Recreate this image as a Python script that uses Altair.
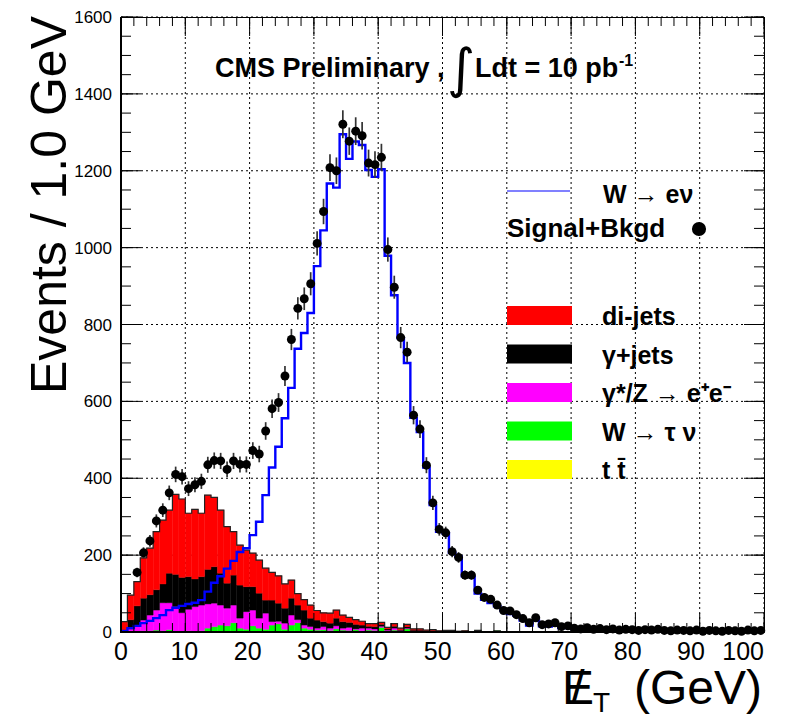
import altair as alt
import pandas as pd

FONT = "Liberation Sans"

# ---------------- data (1 GeV bins, low edges 0..99) ----------------
bin_low = list(range(100))

dijets = [22, 64, 63, 105, 121, 151, 166, 164, 208, 204,
          165, 181, 165, 193, 180, 164, 147, 113, 104, 95,
          87, 86, 83, 72, 71, 63, 47, 30, 27, 34,
          25, 23, 26, 21, 17, 13, 12, 10, 7, 8,
          5, 4, 7, 4, 6, 3, 3, 2, 2, 1,
          2, 1, 0, 1, 0, 0, 1, 0, 0, 0,
          0, 0, 1, 0, 0, 0, 0, 0, 0, 0] + [0] * 30

gamma_jets = [2, 24, 50, 57, 53, 53, 49, 77, 84, 92,
              85, 72, 74, 90, 95, 83, 65, 78, 86, 65,
              61, 65, 34, 56, 47, 39, 44, 38, 39, 22,
              21, 13, 13, 20, 17, 13, 12, 8, 5, 6,
              5, 3, 5, 2, 4, 2, 2, 1, 2, 1,
              1, 1, 1, 0, 1, 0, 0, 1, 0, 0,
              0, 1, 0, 0, 0, 0, 0, 0, 0, 0] + [0] * 30

zee = [2, 6, 16, 28, 41, 52, 73, 70, 64, 48,
       56, 64, 67, 63, 61, 52, 46, 46, 26, 46,
       41, 26, 42, 9, 7, 16, 26, 8, 8, 7,
       5, 8, 6, 8, 5, 8, 2, 7, 5, 4,
       3, 2, 5, 2, 2, 1, 1, 1, 1, 0,
       0, 0, 1, 0, 0, 0, 0, 0, 0, 0] + [0] * 40

wtaunu = [1, 2, 2, 3, 3, 5, 3, 6, 2, 2,
          3, 2, 3, 10, 13, 17, 15, 23, 9, 6,
          14, 8, 6, 16, 19, 6, 16, 23, 9, 6,
          4, 5, 3, 7, 4, 3, 4, 2, 3, 3,
          10, 2, 3, 1, 6, 1, 2, 1, 1, 1,
          1, 1, 0, 1, 0, 3, 0, 0, 3, 0] + [0] * 40

ttbar = [0] * 14 + [1, 1, 1, 1, 1, 1,
                    2, 2, 1, 2, 2, 1, 2, 1, 1, 1,
                    1, 1, 1, 1, 1, 1, 2, 1, 2, 1,
                    2, 1, 2, 1, 2, 1, 0, 0, 0, 0,
                    0, 1, 0, 1, 0, 1, 0, 0, 0, 0] + [0] * 40

wenu = [3, 10, 16, 23, 29, 36, 44, 57, 63, 68,
        73, 76, 83, 105, 128, 145, 165, 185, 208, 218,
        252, 287, 356, 428, 482, 556, 635, 737, 778, 830,
        952, 1045, 1167, 1156, 1295, 1231, 1276, 1267, 1202, 1184,
        1204, 979, 876, 765, 700, 557, 520, 428, 330, 261,
        257, 206, 196, 145, 143, 100, 84, 75, 67, 56,
        47, 43, 30, 17, 30, 15, 14, 16, 10, 12,
        8, 6, 8, 5, 6, 4, 5, 3, 4, 3,
        3, 4, 2, 3, 2, 3, 2, 2, 3, 1,
        2, 2, 1, 2, 1, 2, 1, 2, 1, 2]

data_bin = list(range(2, 100))
data_n = [155, 206, 237, 289, 317, 362, 410, 404,
          373, 383, 392, 435, 446, 445, 423, 445, 436, 436,
          472, 463, 523, 581, 597, 666, 761, 842, 867, 906,
          1011, 1094, 1208, 1200, 1321, 1277, 1303, 1291, 1220, 1216,
          1235, 995, 897, 766, 728, 564, 528, 434, 336, 267,
          258, 209, 194, 148, 148, 109, 90, 85, 70, 56,
          55, 45, 35, 24, 37, 19, 21, 24, 14, 16,
          10, 8, 11, 7, 9, 6, 8, 5, 7, 6,
          4, 6, 5, 7, 4, 3, 5, 4, 3, 5,
          2, 4, 3, 2, 4, 3, 2, 5, 3, 4]

# stack order bottom -> top
stack_names = ["t t\u0304", "W \u2192 \u03c4 \u03bd", "\u03b3*/Z \u2192 e\u207ae\u207b", "\u03b3+jets", "di-jets"]
stack_values = [ttbar, wtaunu, zee, gamma_jets, dijets]
stack_colors = ["#ffff00", "#00ff00", "#ff00ff", "#000000", "#ff0000"]

x_major = list(range(0, 101, 10))
x_minor = list(range(0, 101, 2))
y_major = list(range(0, 1601, 200))
y_minor = list(range(0, 1601, 50))

# ---------------- tables ----------------
rows = []
base = [0] * 100
for name, vals in zip(stack_names, stack_values):
    for i in range(100):
        if vals[i] > 0:
            rows.append({"x0": bin_low[i], "x1": bin_low[i] + 1,
                         "y0": base[i], "y1": base[i] + vals[i], "proc": name})
    base = [base[i] + vals[i] for i in range(100)]
stack_df = pd.DataFrame(rows)

outline_df = pd.DataFrame({"x": bin_low + [100], "y": base + [base[-1]]})
wenu_df = pd.DataFrame({"x": bin_low + [100], "y": wenu + [wenu[-1]]})
pts_df = pd.DataFrame({"x": [b + 0.5 for b in data_bin], "n": data_n})

W, H = 643, 615
xs = alt.Scale(domain=[0, 100], nice=False, zero=False)
ys = alt.Scale(domain=[0, 1600], nice=False)


def X(f):
    return alt.X(f, scale=xs, axis=None)


def Y(f):
    return alt.Y(f, scale=ys, axis=None)


one = alt.Data(values=[{"k": 0}])

# grid (dotted) drawn first
xgrid = alt.Chart(pd.DataFrame({"v": x_major})).mark_rule(
    color="black", strokeWidth=1, strokeDash=[2, 3]).encode(
    x=X("v:Q"), y=alt.value(0), y2=alt.value(H))
ygrid = alt.Chart(pd.DataFrame({"v": y_major})).mark_rule(
    color="black", strokeWidth=1, strokeDash=[2, 3]).encode(
    y=Y("v:Q"), x=alt.value(0), x2=alt.value(W))

stack = alt.Chart(stack_df).mark_rect(strokeWidth=0.4).encode(
    x=X("x0:Q"), x2="x1:Q", y=Y("y0:Q"), y2="y1:Q",
    color=alt.Color("proc:N", scale=alt.Scale(domain=stack_names, range=stack_colors), legend=None),
    stroke=alt.Stroke("proc:N", scale=alt.Scale(domain=stack_names, range=stack_colors), legend=None),
)

outline = alt.Chart(outline_df).mark_line(
    interpolate="step-after", color="#222222", strokeWidth=1.2).encode(x=X("x:Q"), y=Y("y:Q"))

sig = alt.Chart(wenu_df).mark_line(
    interpolate="step-after", color="#0000ff", strokeWidth=2.4).encode(x=X("x:Q"), y=Y("y:Q"))

errs = alt.Chart(pts_df).transform_calculate(
    lo="datum.n - sqrt(datum.n)", hi="datum.n + sqrt(datum.n)"
).mark_rule(color="#333333", strokeWidth=1.7).encode(x=X("x:Q"), y=Y("lo:Q"), y2="hi:Q")

pts = alt.Chart(pts_df).mark_circle(size=80, color="black", opacity=1).encode(
    x=X("x:Q"), y=Y("n:Q"))


def yticks(vals, x1, x2):
    return alt.Chart(pd.DataFrame({"v": vals})).mark_rule(color="black", strokeWidth=1).encode(
        y=Y("v:Q"), x=alt.value(x1), x2=alt.value(x2))


def xticks(vals, y1, y2):
    return alt.Chart(pd.DataFrame({"v": vals})).mark_rule(color="black", strokeWidth=1).encode(
        x=X("v:Q"), y=alt.value(y1), y2=alt.value(y2))


ticks = [
    yticks(y_major, 0, 20), yticks(y_minor, 0, 10),
    yticks(y_major, W - 20, W), yticks(y_minor, W - 10, W),
    xticks(x_major, H, H - 19), xticks(x_minor, H, H - 9),
    xticks(x_major, 0, 19), xticks(x_minor, 0, 9),
]

# frame: thicker left and bottom
frame = [
    alt.Chart(one).mark_rule(color="black", strokeWidth=2).encode(
        x=alt.value(0), y=alt.value(0), y2=alt.value(H + 1)),
    alt.Chart(one).mark_rule(color="black", strokeWidth=2).encode(
        x=alt.value(-1), x2=alt.value(W), y=alt.value(H)),
]

# tick labels (ROOT places them slightly left of the ticks as values grow)
xlab_df = pd.DataFrame({"v": x_major, "lab": [str(v) for v in x_major]})
xlabels = alt.Chart(xlab_df).transform_filter("datum.v < 100").transform_calculate(
    xp="datum.v - datum.v * 0.015").mark_text(
    font=FONT, fontSize=25, baseline="top", align="center", color="black").encode(
    x=X("xp:Q"), y=alt.value(H + 8), text="lab:N")
xlabel_last = alt.Chart(xlab_df).transform_filter("datum.v >= 100").mark_text(
    font=FONT, fontSize=25, baseline="top", align="right", color="black").encode(
    x=X("v:Q"), y=alt.value(H + 8), text="lab:N")
ylab_df = pd.DataFrame({"v": y_major, "lab": [str(v) for v in y_major]})
ylabels = alt.Chart(ylab_df).mark_text(
    font=FONT, fontSize=17, baseline="middle", align="right", color="black", dy=1).encode(
    y=Y("v:Q"), x=alt.value(-9), text="lab:N")


def txt(s, x, y, size, bold=True, align="left", baseline="middle", angle=0, font=FONT):
    kw = dict(text=s, font=font, fontSize=size, align=align, baseline=baseline,
              color="black", fontWeight="bold" if bold else "normal")
    if angle:
        kw["angle"] = angle
    return alt.Chart(one).mark_text(**kw).encode(x=alt.value(x), y=alt.value(y))


def box(x1, x2, y1, y2, color):
    return alt.Chart(one).mark_rect(color=color).encode(
        x=alt.value(x1), x2=alt.value(x2), y=alt.value(y1), y2=alt.value(y2))


# legend (drawn inside the frame)
legend = []
legend.append(alt.Chart(one).mark_rule(color="#8080ff", strokeWidth=2).encode(
    x=alt.value(386), x2=alt.value(449), y=alt.value(174)))
legend.append(txt("W \u2192 e\u03bd", 482, 178, 25))
legend.append(txt("Signal+Bkgd", 386, 212, 26))
legend.append(alt.Chart(one).mark_circle(size=200, color="black", opacity=1).encode(
    x=alt.value(578), y=alt.value(212)))
for i, (name, col) in enumerate(zip(stack_names[::-1], stack_colors[::-1])):
    top = 289 + i * 38.5
    legend.append(box(386, 451, top, top + 19, col))
    legend.append(txt(name, 481, top + 11, 25))

# title and axis titles
annot = [
    txt("CMS Preliminary ,", 94, 52, 27),
    txt("\u222b", 340, 54, 54, bold=False, align="center", font="DejaVu Sans"),
    txt("Ldt = 10 pb", 354, 52, 27),
    txt("-1", 498, 44, 16),
    txt("Events / 1.0 GeV", -70, -1, 50, bold=False, align="right", angle=270),
    txt("E", 441, 687, 48, bold=False, baseline="alphabetic"),
    txt("/", 457, 687, 48, bold=False, align="center", baseline="alphabetic"),
    txt("T", 472, 695, 28, bold=False, baseline="alphabetic"),
    txt("(GeV)", 641, 687, 48, bold=False, align="right", baseline="alphabetic"),
]

chart = alt.layer(xgrid, ygrid, stack, outline, sig, errs, pts, *ticks, *frame,
                  xlabels, xlabel_last, ylabels, *legend, *annot).properties(
    width=W, height=H,
    padding={"left": 113, "top": 9, "right": 30, "bottom": 86},
    autosize=alt.AutoSizeParams(type="none"),
).configure_view(stroke="black", strokeWidth=1)

chart.save("out.html", embed_options={"renderer": "svg", "actions": False})
